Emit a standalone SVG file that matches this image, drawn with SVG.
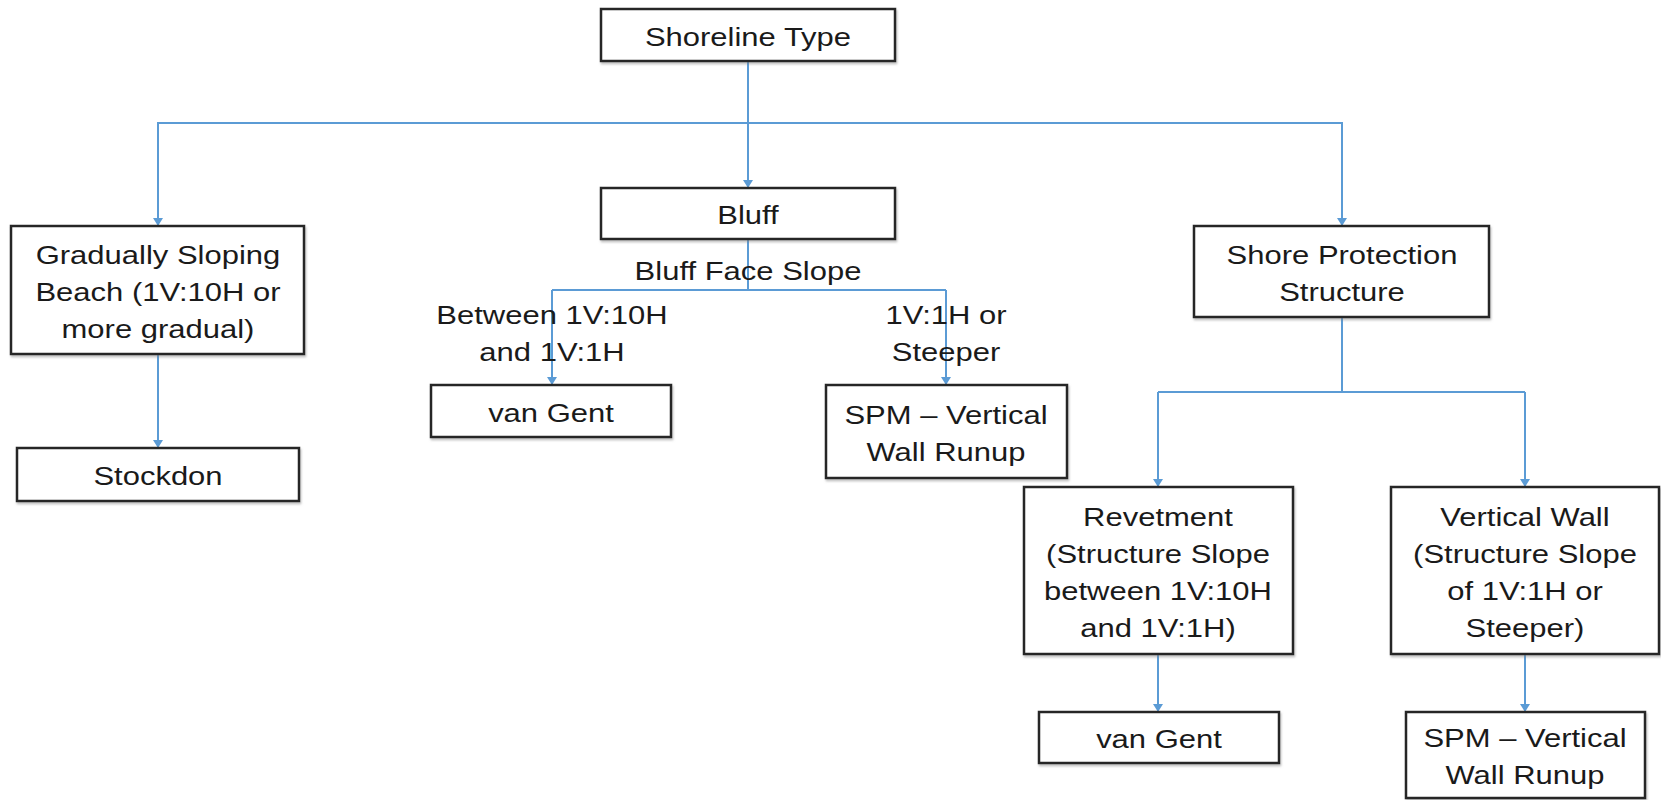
<svg xmlns="http://www.w3.org/2000/svg" width="1661" height="800" viewBox="0 0 1661 800">
<defs>
<style>
.box{fill:#ffffff;stroke:#262626;stroke-width:2.5;filter:url(#sh)}
.t{font-family:"Liberation Sans",Arial,sans-serif;font-size:31px;fill:#1a1a1a;text-anchor:middle}
.c{fill:none;stroke:#5b9bd5;stroke-width:2}
</style>
<filter id="sh" x="-5%" y="-5%" width="110%" height="120%">
<feDropShadow dx="1" dy="2" stdDeviation="1.2" flood-color="#7f7f7f" flood-opacity="0.5"/>
</filter>
<marker id="arr" markerUnits="userSpaceOnUse" markerWidth="10" markerHeight="10" refX="8" refY="5" orient="auto">
<path d="M0,0 L8,5 L0,10 Z" fill="#5b9bd5"/>
</marker>
</defs>
<rect width="1661" height="800" fill="#ffffff"/>
<g id="connectors">
<path class="c" d="M748,61 V188" marker-end="url(#arr)"/>
<path class="c" d="M158,226 V123 H1342 V226" marker-end="url(#arr)"/>
<path class="c" d="M158,123 V226" marker-end="url(#arr)"/>
<path class="c" d="M158,354 V448" marker-end="url(#arr)"/>
<path class="c" d="M748,239 V290"/>
<path class="c" d="M552,290 H946"/>
<path class="c" d="M552,290 V385" marker-end="url(#arr)"/>
<path class="c" d="M946,290 V385" marker-end="url(#arr)"/>
<path class="c" d="M1342,317 V392"/>
<path class="c" d="M1158,392 H1525"/>
<path class="c" d="M1158,392 V487" marker-end="url(#arr)"/>
<path class="c" d="M1525,392 V487" marker-end="url(#arr)"/>
<path class="c" d="M1158,654 V712" marker-end="url(#arr)"/>
<path class="c" d="M1525,654 V712" marker-end="url(#arr)"/>
</g>
<g id="shoreline-type">
<rect class="box" x="601" y="9" width="294" height="52"/>
<text class="t" x="748" y="46" transform="matrix(1 0 0 .83 0 7.82)">Shoreline Type</text>
</g>
<g id="bluff">
<rect class="box" x="601" y="188" width="294" height="51"/>
<text class="t" x="748" y="224" transform="matrix(1 0 0 .83 0 38.08)">Bluff</text>
</g>
<g id="gradually-sloping">
<rect class="box" x="11" y="226" width="293" height="128"/>
<text class="t" x="158" y="264" transform="matrix(1 0 0 .83 0 44.88)">Gradually Sloping</text>
<text class="t" x="158" y="301" transform="matrix(1 0 0 .83 0 51.17)">Beach (1V:10H or</text>
<text class="t" x="158" y="338" transform="matrix(1 0 0 .83 0 57.46)">more gradual)</text>
</g>
<g id="stockdon">
<rect class="box" x="17" y="448" width="282" height="53"/>
<text class="t" x="158" y="485" transform="matrix(1 0 0 .83 0 82.45)">Stockdon</text>
</g>
<g id="bluff-face-slope">
<text class="t" x="748" y="280" transform="matrix(1 0 0 .83 0 47.6)">Bluff Face Slope</text>
</g>
<g id="label-between">
<text class="t" x="552" y="324" transform="matrix(1 0 0 .83 0 55.08)">Between 1V:10H</text>
<text class="t" x="552" y="361" transform="matrix(1 0 0 .83 0 61.37)">and 1V:1H</text>
</g>
<g id="label-steeper">
<text class="t" x="946" y="324" transform="matrix(1 0 0 .83 0 55.08)">1V:1H or</text>
<text class="t" x="946" y="361" transform="matrix(1 0 0 .83 0 61.37)">Steeper</text>
</g>
<g id="van-gent-1">
<rect class="box" x="431" y="385" width="240" height="52"/>
<text class="t" x="551" y="422" transform="matrix(1 0 0 .83 0 71.74)">van Gent</text>
</g>
<g id="spm-1">
<rect class="box" x="826" y="385" width="241" height="93"/>
<text class="t" x="946" y="424" transform="matrix(1 0 0 .83 0 72.08)">SPM – Vertical</text>
<text class="t" x="946" y="461" transform="matrix(1 0 0 .83 0 78.37)">Wall Runup</text>
</g>
<g id="shore-protection">
<rect class="box" x="1194" y="226" width="295" height="91"/>
<text class="t" x="1342" y="264" transform="matrix(1 0 0 .83 0 44.88)">Shore Protection</text>
<text class="t" x="1342" y="301" transform="matrix(1 0 0 .83 0 51.17)">Structure</text>
</g>
<g id="revetment">
<rect class="box" x="1024" y="487" width="269" height="167"/>
<text class="t" x="1158" y="526" transform="matrix(1 0 0 .83 0 89.42)">Revetment</text>
<text class="t" x="1158" y="563" transform="matrix(1 0 0 .83 0 95.71)">(Structure Slope</text>
<text class="t" x="1158" y="600" transform="matrix(1 0 0 .83 0 102)">between 1V:10H</text>
<text class="t" x="1158" y="637" transform="matrix(1 0 0 .83 0 108.29)">and 1V:1H)</text>
</g>
<g id="vertical-wall">
<rect class="box" x="1391" y="487" width="268" height="167"/>
<text class="t" x="1525" y="526" transform="matrix(1 0 0 .83 0 89.42)">Vertical Wall</text>
<text class="t" x="1525" y="563" transform="matrix(1 0 0 .83 0 95.71)">(Structure Slope</text>
<text class="t" x="1525" y="600" transform="matrix(1 0 0 .83 0 102)">of 1V:1H or</text>
<text class="t" x="1525" y="637" transform="matrix(1 0 0 .83 0 108.29)">Steeper)</text>
</g>
<g id="van-gent-2">
<rect class="box" x="1039" y="712" width="240" height="51"/>
<text class="t" x="1159" y="748" transform="matrix(1 0 0 .83 0 127.16)">van Gent</text>
</g>
<g id="spm-2">
<rect class="box" x="1406" y="712" width="239" height="86"/>
<text class="t" x="1525" y="747" transform="matrix(1 0 0 .83 0 126.99)">SPM – Vertical</text>
<text class="t" x="1525" y="784" transform="matrix(1 0 0 .83 0 133.28)">Wall Runup</text>
</g>
</svg>
